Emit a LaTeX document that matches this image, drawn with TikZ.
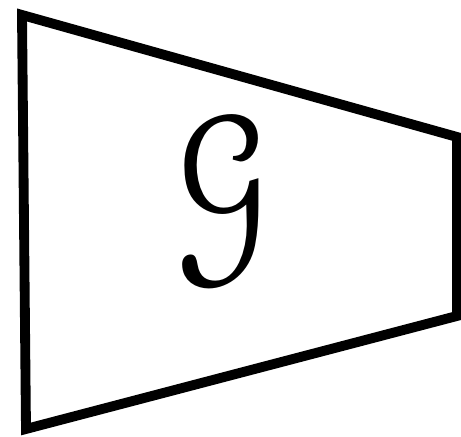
\documentclass[tikz,border=0pt]{standalone}
\usepackage{amsmath}
\usepackage[mathcal]{euscript}
\usepackage{tikz}

\begin{document}
\begin{tikzpicture}[font=\small]
  \useasboundingbox (0,0) rectangle (4.61,4.37);
  % Trapezoid
  \coordinate (tl) at (0.22,4.22);
  \coordinate (tr) at (4.57,3.00);
  \coordinate (br) at (4.57,1.21);
  \coordinate (bl) at (0.26,0.08);
  \draw[line width=2.8pt, line join=miter] (tl) -- (tr) -- (br) -- (bl) -- cycle;
  \node[font=\fontsize{60}{66}\selectfont, xscale=0.8, transform shape] (label) at (2.21,2.36) {$\mathcal{G}$};
\end{tikzpicture}
\end{document}
